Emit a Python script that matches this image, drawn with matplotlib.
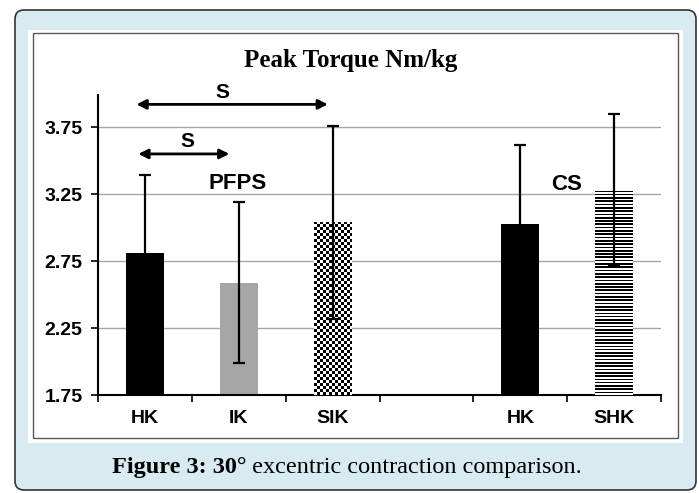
import numpy as np
import matplotlib.pyplot as plt
from matplotlib.patches import FancyBboxPatch, Rectangle
from matplotlib.transforms import IdentityTransform

# data (PFPS group, gap, CS group)
categories = ['HK', 'IK', 'SIK', '', 'HK', 'SHK']
means = [2.81, 2.59, 3.04, np.nan, 3.03, 3.28]
errors = [0.58, 0.60, 0.72, np.nan, 0.59, 0.57]
bar_fills = ['black', '#a6a6a6', 'checker', None, 'black', 'stripes']
y_ticks = [1.75, 2.25, 2.75, 3.25, 3.75]

W, H = 699, 493
fig = plt.figure(figsize=(W / 100, H / 100), dpi=100)

# page frame: light blue rounded box, white panel, grey chart border
fig.add_artist(FancyBboxPatch((15, H - 490), 681, 480, boxstyle='round,pad=0,rounding_size=9',
                              transform=IdentityTransform(), facecolor='#d7ebf1',
                              edgecolor='#333333', lw=1.2, zorder=-3))
fig.add_artist(Rectangle((28, H - 443), 655, 413, transform=IdentityTransform(),
                         facecolor='white', edgecolor='none', zorder=-2))
fig.add_artist(Rectangle((33, H - 438), 645, 405, transform=IdentityTransform(),
                         facecolor='none', edgecolor='#595959', lw=1, zorder=-1))

ax = fig.add_axes([98 / W, 1 - 395 / H, (661 - 98) / W, (395 - 95) / H])
ax.set_facecolor('none')

x = np.arange(len(categories))
bars = ax.bar(x, means, width=0.4, color=['white' if f in ('checker', 'stripes') or f is None else f
                                          for f in bar_fills], zorder=2)

# patterned bars: checkerboard and horizontal stripes clipped to the bar shapes
ylo, yhi = 1.75, 3.99
rows, cols = 100, 188
checker = (np.add.outer(np.arange(rows), np.arange(cols)) % 2).astype(float)
stripes = np.tile((np.arange(182) % 2)[:, None], (1, 4)).astype(float)
for bar, fill in zip(bars, bar_fills):
    if fill == 'checker':
        img = ax.imshow(checker, cmap='gray', extent=(-0.5, 5.5, ylo, yhi), aspect='auto',
                        interpolation='nearest', zorder=3)
        img.set_clip_path(bar)
    elif fill == 'stripes':
        img = ax.imshow(stripes, cmap='gray', extent=(-0.5, 5.5, ylo, yhi), aspect='auto',
                        interpolation='nearest', zorder=3)
        img.set_clip_path(bar)

ax.errorbar(x, means, yerr=errors, fmt='none', ecolor='black', elinewidth=1.6,
            capsize=4, capthick=1.6, zorder=4)

ax.set_xlim(-0.5, 5.5)
ax.set_ylim(ylo, yhi)

ax.set_yticks(y_ticks)
ax.set_yticklabels([f'{v:.2f}' for v in y_ticks], fontfamily='Liberation Sans',
                   fontweight='bold', fontsize=14)
ax.set_xticks(x)
ax.set_xticklabels(categories, fontfamily='Liberation Sans', fontweight='bold', fontsize=14)
ax.set_xticks(np.arange(-0.5, 6, 1), minor=True)
ax.tick_params(axis='x', which='major', length=0, pad=11)
ax.tick_params(axis='x', which='minor', length=5, width=1.2, direction='out')
ax.tick_params(axis='y', length=5, width=1.2, pad=6)

ax.yaxis.grid(True, color='#a6a6a6', lw=1)
ax.set_axisbelow(True)
for s in ['top', 'right']:
    ax.spines[s].set_visible(False)
for s in ['left', 'bottom']:
    ax.spines[s].set_linewidth(1.5)

# significance arrows
arrow = dict(arrowstyle='<|-|>', color='black', lw=2, mutation_scale=14, shrinkA=0, shrinkB=0)
ax.annotate('', xy=(1.95, 3.92), xytext=(-0.09, 3.92), arrowprops=arrow, annotation_clip=False)
ax.annotate('', xy=(0.90, 3.55), xytext=(-0.07, 3.55), arrowprops=arrow, annotation_clip=False)
sfont = dict(fontfamily='Liberation Sans', fontweight='bold', fontsize=15, ha='center', va='center')
ax.text(0.83, 4.01, 'S', clip_on=False, **sfont)
ax.text(0.45, 3.64, 'S', **sfont)
ax.text(0.985, 3.33, 'PFPS', fontfamily='Liberation Sans', fontweight='bold', fontsize=16,
        ha='center', va='center')
ax.text(4.49, 3.32, 'CS', fontfamily='Liberation Sans', fontweight='bold', fontsize=16,
        ha='center', va='center')

fig.text(351 / W, 1 - 60 / H, 'Peak Torque Nm/kg', fontfamily='Liberation Serif',
         fontweight='bold', fontsize=18, ha='center', va='center')

# caption: bold lead-in followed by regular text
cap_y = 1 - 468 / H
t1 = fig.text(112 / W, cap_y, 'Figure 3: 30°', fontfamily='Liberation Serif', fontweight='bold',
              fontsize=17.5, ha='left', va='center')
fig.canvas.draw()
bb = t1.get_window_extent()
fig.text(bb.x1 / W, cap_y, ' excentric contraction comparison.', fontfamily='Liberation Serif',
         fontsize=17.5, ha='left', va='center')

fig.savefig('out.png', dpi=100)
plt.close()
